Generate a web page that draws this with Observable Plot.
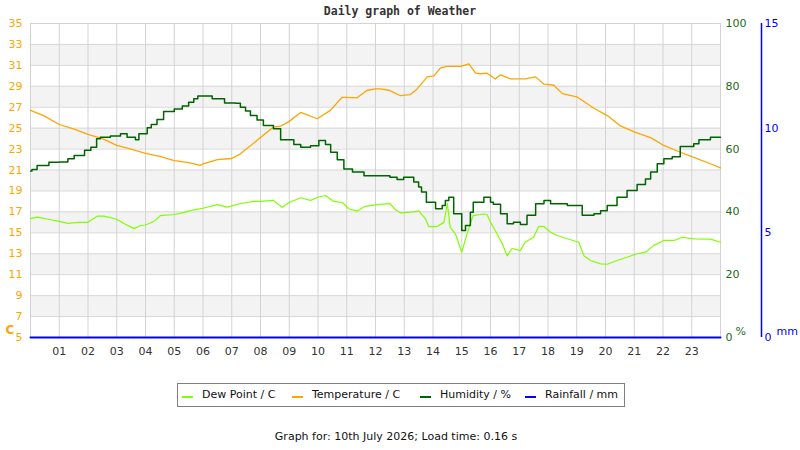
<!DOCTYPE html>
<html>
<head>
<meta charset="utf-8">
<script src="https://cdn.jsdelivr.net/npm/d3@7"></script>
<script src="https://cdn.jsdelivr.net/npm/@observablehq/plot@0.6"></script>
<style>
  html, body { margin: 0; padding: 0; background: #fff; }
  #wrap { position: relative; width: 800px; height: 450px; font-family: "DejaVu Sans", sans-serif; }
  #title { position: absolute; left: 0; top: 6px; width: 800px; text-align: center;
           font-family: "DejaVu Sans Mono", monospace; font-weight: bold; font-size: 11.5px; color: #333; line-height: 1; }
  #chart { position: absolute; left: 0; top: 0; }
  #legend { position: absolute; left: 177px; top: 383px; width: 448px; height: 24px; box-sizing: border-box;
            border: 1px solid #808080; font-size: 11px; color: #111; }
  .item { position: absolute; top: 5px; line-height: 12px; white-space: nowrap; }
  .sw { position: absolute; top: 12px; width: 11px; height: 2px; }
  #caption { position: absolute; left: 0; top: 431px; width: 792px; text-align: center; font-size: 11px; color: #111; line-height: 1; }
</style>
</head>
<body>
<div id="wrap">
  <div id="chart"></div>
  <div id="title">Daily graph of Weather</div>
  <div id="legend"></div>
  <div id="caption">Graph for: 10th July 2026; Load time: 0.16 s</div>
</div>
<script>
// ---- data ----
const hourTicks = [1,2,3,4,5,6,7,8,9,10,11,12,13,14,15,16,17,18,19,20,21,22,23];
const tempTicks = [5,7,9,11,13,15,17,19,21,23,25,27,29,31,33,35];
const humTicks = [0,20,40,60,80,100];
const rainTicks = [0,5,10,15];

const tempHours = [0,0.46,1,1.52,2,2.5,3,3.5,4,4.5,5,5.5,5.9,6,6.5,7,7.3,8,8.45,8.7,9,9.4,9.97,10.43,10.84,11,11.36,11.7,12,12.17,12.5,12.64,12.87,13.2,13.45,13.8,14.03,14.26,14.49,14.96,15.25,15.48,15.65,15.88,16.17,16.35,16.7,17.2,17.57,17.86,18.2,18.5,19,19.6,20.06,20.5,21.04,21.57,22.03,22.6,23.07,23.65,24];
const tempVals  = [26.7,26.2,25.35,24.9,24.4,24.0,23.35,23.0,22.6,22.3,21.9,21.7,21.45,21.6,22.0,22.1,22.55,24.1,25.1,25.2,25.65,26.5,25.9,26.7,27.95,27.95,27.9,28.6,28.75,28.75,28.6,28.4,28.1,28.2,28.75,29.9,30.0,30.75,30.9,30.9,31.15,30.25,30.2,30.25,29.7,30.1,29.7,29.7,29.9,29.2,29.1,28.3,28.0,26.9,26.2,25.25,24.6,24.1,23.35,22.7,22.2,21.6,21.2];

const humHours = [0,0.05,0.23,0.64,1,1.3,1.52,1.88,2.1,2.3,2.43,2.78,3.13,3.36,3.65,3.77,4.06,4.2,4.4,4.63,5.0,5.28,5.5,5.68,5.82,6.26,6.32,6.7,6.75,7.13,7.3,7.48,7.65,7.88,8.1,8.45,8.7,9.04,9.16,9.4,9.74,10.03,10.26,10.44,10.67,10.9,11.2,11.6,12.3,12.5,12.75,12.98,13.33,13.5,13.6,13.77,14.09,14.32,14.43,14.55,14.72,15.0,15.13,15.3,15.4,15.77,16.0,16.1,16.35,16.58,16.8,17.04,17.27,17.57,17.86,18.09,18.67,19.07,19.19,19.6,19.83,20.06,20.4,20.75,21.1,21.39,21.57,21.8,22.03,22.32,22.6,23.07,23.25,23.65,24];
const humVals  = [53.0,53.5,54.8,55.8,55.9,56.9,58.0,59.6,60.6,63.3,63.8,64.2,64.9,63.8,63.0,64.9,66.8,67.8,69.4,72.0,72.8,73.7,74.9,76.0,76.9,76.9,76.0,76.0,74.7,74.6,73.3,72.1,70.7,69.3,67.5,66.5,63.0,63.0,61.5,60.6,61.1,62.7,61.5,59.0,56.6,53.7,52.7,51.5,51.5,51.05,50.3,51.0,49.5,47.9,46.3,43.1,41.0,42.0,43.6,44.7,39.4,34.1,35.7,39.9,43.1,44.7,43.1,42.4,39.4,36.2,36.7,36.0,38.9,42.6,43.6,42.6,42.0,42.0,38.9,39.4,40.4,42.0,44.7,46.8,48.7,50.5,52.7,55.3,56.9,57.6,60.8,61.7,63.0,63.8,63.8];

const dewHours = [0,0.23,0.7,1,1.3,1.65,2,2.33,2.56,3,3.25,3.6,3.83,4,4.3,4.52,5,5.28,5.68,6,6.5,6.84,7.3,7.77,8,8.45,8.75,9.0,9.4,9.74,10,10.26,10.55,10.85,11.07,11.36,11.6,12.05,12.5,12.7,12.87,13.33,13.5,13.74,13.85,14.14,14.38,14.5,14.6,14.78,15.0,15.13,15.3,15.4,15.77,15.88,16.0,16.17,16.41,16.58,16.75,17.04,17.2,17.5,17.68,17.86,18.09,18.32,18.67,19.07,19.25,19.48,19.83,20.06,20.4,20.75,21.1,21.39,21.68,22.03,22.38,22.67,23.07,23.65,24];
const dewVals  = [16.35,16.5,16.25,16.1,15.9,16.0,16.0,16.6,16.6,16.3,15.9,15.4,15.7,15.75,16.1,16.65,16.75,16.9,17.2,17.35,17.7,17.45,17.8,18.0,18.0,18.1,17.45,17.9,18.35,18.1,18.4,18.57,18.0,17.9,17.3,17.07,17.5,17.7,17.8,17.2,16.9,17.0,17.1,16.34,15.6,15.6,16.0,17.8,15.5,14.9,13.15,14.4,15.9,16.65,16.8,16.75,16.0,15.2,13.95,12.8,13.5,13.3,14.1,14.58,15.63,15.6,15.06,14.75,14.43,14.1,12.8,12.36,12.04,12.0,12.36,12.67,13.0,13.15,13.8,14.27,14.27,14.58,14.43,14.4,14.1];

const rainHours = [0, 24];
const rainVals = [0, 0];

const seriesNames = ["Dew Point / C", "Temperature / C", "Humidity / %", "Rainfall / mm"];
const seriesColors = ["#80ff00", "#ffa500", "#006400", "#0000ff"];

// ---- scales for secondary axes (mapped into the temperature scale) ----
const tMin = tempTicks[0], tMax = tempTicks[tempTicks.length - 1];
const humToT = d3.scaleLinear().domain([humTicks[0], humTicks[humTicks.length-1]]).range([tMin, tMax]);
const rainToT = d3.scaleLinear().domain([rainTicks[0], rainTicks[rainTicks.length-1]]).range([tMin, tMax]);

const temp = tempHours.map((h, i) => ({h, v: tempVals[i]}));
const hum = humHours.map((h, i) => ({h, v: humToT(humVals[i])}));
const dew = dewHours.map((h, i) => ({h, v: dewVals[i]}));
const rain = rainHours.map((h, i) => ({h, v: rainToT(rainVals[i])}));

const bands = tempTicks.slice(0, -1).map((t, i) => ({lo: t, hi: tempTicks[i+1], shade: i % 2 === 1})).filter(b => b.shade);

const chart = Plot.plot({
  width: 800,
  height: 370,
  marginTop: 23,
  marginLeft: 30,
  marginRight: 80,
  marginBottom: 33,
  style: {fontFamily: "DejaVu Sans, sans-serif", fontSize: "11px", background: "transparent", overflow: "visible"},
  x: {domain: [0, 24], axis: null, label: null},
  y: {domain: [tMin, tMax], axis: null, label: null},
  marks: [
    Plot.rect(bands, {y1: "lo", y2: "hi", fill: "#f3f3f3"}),
    Plot.ruleY(tempTicks, {stroke: "#d8d8d8", strokeWidth: 1}),
    Plot.ruleX(hourTicks, {stroke: "#d3d3d3", strokeWidth: 1}),
    Plot.frame({stroke: "#d3d3d3"}),
    Plot.axisX(hourTicks, {tickSize: 0, tickPadding: 10, label: null, tickFormat: d => String(d).padStart(2, "0"), fill: "#333"}),
    Plot.axisY(tempTicks, {anchor: "left", tickSize: 0, tickPadding: 8, label: null, fill: "#ffa500"}),
    Plot.axisY(humTicks.map(humToT), {anchor: "right", tickSize: 0, tickPadding: 5, label: null, fill: "#1a6a1a",
      tickFormat: d => String(Math.round(humToT.invert(d)))}),
    Plot.axisY(rainTicks.map(rainToT), {anchor: "right", tickSize: 0, tickPadding: 4, dx: 40, label: null, fill: "#0000ff",
      tickFormat: d => String(Math.round(rainToT.invert(d)))}),
    Plot.ruleX([24], {dx: 41, stroke: "#0000ff", strokeWidth: 1.5}),
    Plot.text(["C"], {frameAnchor: "bottom-left", dx: -25, dy: -4, fill: "#ffa500", fontWeight: "bold", fontSize: 12, textAnchor: "start"}),
    Plot.text(["%"], {frameAnchor: "bottom-right", dx: 15, dy: -3, fill: "#1a6a1a", fontSize: 11, textAnchor: "start"}),
    Plot.text(["mm"], {frameAnchor: "bottom-right", dx: 56, dy: -3, fill: "#0000ff", fontSize: 11, textAnchor: "start"}),
    Plot.line(dew, {x: "h", y: "v", stroke: seriesColors[0], strokeWidth: 1.2}),
    Plot.line(temp, {x: "h", y: "v", stroke: seriesColors[1], strokeWidth: 1.3}),
    Plot.line(hum, {x: "h", y: "v", stroke: seriesColors[2], strokeWidth: 1.5, curve: "step-after"}),
    Plot.line(rain, {x: "h", y: "v", stroke: seriesColors[3], strokeWidth: 2})
  ]
});
document.getElementById("chart").appendChild(chart);

// legend
const legend = document.getElementById("legend");
const swX = [4, 114, 242, 347];
const txtX = [24, 134, 262, 367];
seriesNames.forEach((name, i) => {
  const sw = document.createElement("span");
  sw.className = "sw";
  sw.style.left = swX[i] + "px";
  sw.style.background = seriesColors[i];
  legend.appendChild(sw);
  const t = document.createElement("span");
  t.className = "item";
  t.style.left = txtX[i] + "px";
  t.textContent = name;
  legend.appendChild(t);
});
</script>
</body>
</html>
